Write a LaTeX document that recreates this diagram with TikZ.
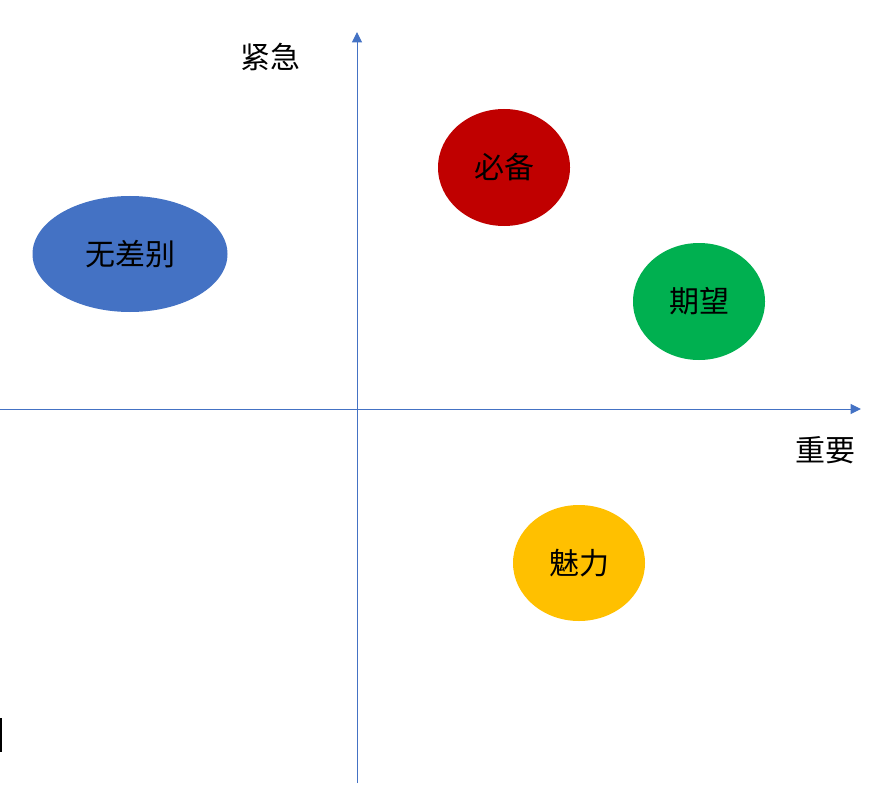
\documentclass[tikz,border=0pt]{standalone}
\usepackage{fontspec}
\newfontfamily\cjk{Noto Sans CJK SC}
\usetikzlibrary{arrows.meta,shapes.geometric}
\definecolor{axisblue}{HTML}{4472C4}
\definecolor{cblue}{HTML}{4472C4}
\definecolor{cred}{HTML}{C00000}
\definecolor{cgreen}{HTML}{00B050}
\definecolor{cgold}{HTML}{FFC000}
\begin{document}
\begin{tikzpicture}[x=1pt,y=-1pt,
  axisline/.style={draw=axisblue,line width=1pt,-{Triangle[length=10.5pt,width=10pt]}},
  blob/.style={ellipse,draw=none,inner sep=0pt,font=\cjk\fontsize{30}{36}\selectfont,text=black},
  lbl/.style={font=\cjk\fontsize{30}{36}\selectfont,text=black,inner sep=0pt}]
\useasboundingbox (0,0) rectangle (874,802);
\fill[white] (0,0) rectangle (874,802);
\coordinate (vbot) at (357,783);
\coordinate (vtop) at (357,32);
\coordinate (hleft) at (0,409);
\coordinate (hright) at (861,409);
\draw[axisline] (vbot) -- (vtop);
\draw[axisline] (hleft) -- (hright);
\node[lbl] (urgent) at (270,57) {紧急};
\node[lbl] (important) at (825,450) {重要};
\node[blob,fill=cblue,minimum width=195pt,minimum height=116pt] (nodiff) at (130,254) {无差别};
\node[blob,fill=cred,minimum width=132pt,minimum height=117pt] (must) at (504,167.5) {必备};
\node[blob,fill=cgreen,minimum width=132pt,minimum height=117pt] (expect) at (699,301.5) {期望};
\node[blob,fill=cgold,minimum width=132pt,minimum height=116pt] (charm) at (579,563) {魅力};
\fill[black] (0,718) rectangle (2.2,752);
\end{tikzpicture}
\end{document}
